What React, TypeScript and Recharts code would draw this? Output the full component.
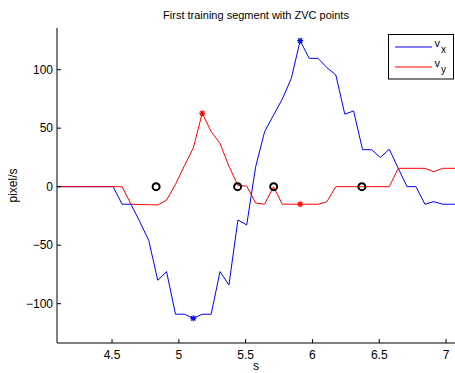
import React from "react";
import { ComposedChart, Line, Scatter, XAxis, YAxis } from "recharts";

// sample times (s), 15 Hz
const time = [
  4.042, 4.108, 4.175, 4.242, 4.308, 4.375, 4.442, 4.508, 4.575, 4.642, 4.708, 4.775,
  4.842, 4.908, 4.975, 5.042, 5.108, 5.175, 5.242, 5.308, 5.375, 5.442, 5.508, 5.575,
  5.642, 5.708, 5.775, 5.842, 5.908, 5.975, 6.042, 6.108, 6.175, 6.242, 6.308, 6.375,
  6.442, 6.508, 6.575, 6.642, 6.708, 6.775, 6.842, 6.908, 6.975, 7.042, 7.108,
];
const vx = [
  0, 0, 0, 0, 0, 0, 0, 0, -15, -15, -30, -46,
  -80, -72.6, -109, -109, -112.5, -109, -109, -72.6, -84, -28.5, -32.7, 17,
  47, 61, 75, 92.6, 124.8, 109.7, 109.7, 101.7, 95.5, 62, 64.7, 31.6,
  31.6, 25, 32, 15.7, 0, 0, -15, -12.8, -15, -15, -15,
];
const vy = [
  0, 0, 0, 0, 0, 0, 0, 0, 0, -15, -15.3, -15.4,
  -15.6, -11.5, 2, 18, 33, 62.7, 47, 37, 17.5, 1, 0.5, -14,
  -15, 0, -15, -15, -15, -15, -15, -12.8, 0, 0, 0, 0,
  0, 0, 0, 15.7, 15.7, 15.7, 15.7, 12.8, 15.7, 15.7, 15.7,
];

// zero velocity crossing points
const zvcTime = [4.83, 5.44, 5.71, 6.37];
const zvcValue = [0, 0, 0, 0];

// peaks
const vxPeakTime = [5.108, 5.908];
const vxPeakValue = [-112.5, 124.8];
const vyPeakTime = [5.175, 5.908];
const vyPeakValue = [62.7, -15];

const xTicks = [4.5, 5, 5.5, 6, 6.5, 7];
const yTicks = [-100, -50, 0, 50, 100];
const seriesSubs = ["x", "y"];

const BLUE = "#0000ff";
const RED = "#ff0000";
const FONT = "'Liberation Sans', Arial, Helvetica, sans-serif";

const rows = time.map((t, i) => ({ t, vx: vx[i], vy: vy[i] }));
const zvc = zvcTime.map((t, i) => ({ t, v: zvcValue[i] }));
const vxPeaks = vxPeakTime.map((t, i) => ({ t, v: vxPeakValue[i] }));
const vyPeaks = vyPeakTime.map((t, i) => ({ t, v: vyPeakValue[i] }));

const fmt = (v: number) => (v < 0 ? "\u2212" + Math.abs(v) : String(v));

const XTick = (props: any) => {
  const { x, y, payload } = props;
  return (
    <g>
      <line x1={x} y1={y} x2={x} y2={y - 4} stroke="#000" />
      <text x={x} y={y + 16} textAnchor="middle" fontSize={12} fontFamily={FONT} fill="#000">
        {fmt(payload.value)}
      </text>
    </g>
  );
};

const YTick = (props: any) => {
  const { x, y, payload } = props;
  return (
    <g>
      <line x1={x} y1={y} x2={x + 4} y2={y} stroke="#000" />
      <text x={x - 4} y={y + 4} textAnchor="end" fontSize={12} fontFamily={FONT} fill="#000">
        {fmt(payload.value)}
      </text>
    </g>
  );
};

const XLabel = (props: any) => {
  const vb = props.viewBox || {};
  return (
    <text x={vb.x + vb.width / 2} y={vb.y + 27} textAnchor="middle" fontSize={12} fontFamily={FONT} fill="#000">
      s
    </text>
  );
};

const YLabel = (props: any) => {
  const vb = props.viewBox || {};
  const cx = vb.x + 17;
  const cy = vb.y + vb.height / 2;
  return (
    <text x={cx} y={cy} transform={`rotate(-90 ${cx} ${cy})`} textAnchor="middle" fontSize={12} fontFamily={FONT} fill="#000">
      pixel/s
    </text>
  );
};

const Ring = (props: any) => {
  const { cx, cy } = props;
  return <circle cx={cx} cy={cy} r={3.5} fill="none" stroke="#000" strokeWidth={2} />;
};

const makeStar = (color: string) => (props: any) => {
  const { cx, cy } = props;
  const r = 3;
  const d = 2.2;
  return (
    <g stroke={color} strokeWidth={1.2}>
      <line x1={cx - r} y1={cy} x2={cx + r} y2={cy} />
      <line x1={cx} y1={cy - r} x2={cx} y2={cy + r} />
      <line x1={cx - d} y1={cy - d} x2={cx + d} y2={cy + d} />
      <line x1={cx - d} y1={cy + d} x2={cx + d} y2={cy - d} />
    </g>
  );
};

export default function App() {
  const colors = [BLUE, RED];
  return (
    <div style={{ position: "absolute", left: 0, top: 0, width: 455, height: 373, background: "#fff", fontFamily: FONT }}>
      <ComposedChart width={455} height={373} data={rows} margin={{ top: 28, right: 0, bottom: 0, left: 0 }}>
        <XAxis
          dataKey="t"
          type="number"
          domain={[4.088, 7.067]}
          ticks={xTicks}
          allowDataOverflow
          height={30}
          tickLine={false}
          tickSize={0}
          tickMargin={0}
          tick={<XTick />}
          axisLine={{ stroke: "#000" }}
          label={<XLabel />}
        />
        <YAxis
          type="number"
          domain={[-133.6, 135.6]}
          ticks={yTicks}
          allowDataOverflow
          width={57}
          tickLine={false}
          tickSize={0}
          tickMargin={0}
          tick={<YTick />}
          axisLine={{ stroke: "#000" }}
          label={<YLabel />}
        />
        <Line type="linear" dataKey="vx" stroke={BLUE} strokeWidth={1} dot={false} isAnimationActive={false} />
        <Line type="linear" dataKey="vy" stroke={RED} strokeWidth={1} dot={false} isAnimationActive={false} />
        <Scatter data={zvc} dataKey="v" shape={<Ring />} isAnimationActive={false} />
        <Scatter data={vxPeaks} dataKey="v" shape={makeStar(BLUE)} isAnimationActive={false} />
        <Scatter data={vyPeaks} dataKey="v" shape={makeStar(RED)} isAnimationActive={false} />
      </ComposedChart>
      <svg width={455} height={373} style={{ position: "absolute", left: 0, top: 0, pointerEvents: "none" }}>
        <text x={256} y={18.5} textAnchor="middle" fontSize={11} fontFamily={FONT} fill="#000">
          First training segment with ZVC points
        </text>
        <rect x={388.5} y={34.5} width={65} height={44.5} fill="#fff" stroke="#000" strokeWidth={1} />
        {seriesSubs.map((s, i) => (
          <g key={s}>
            <line x1={395} y1={47 + i * 20} x2={432} y2={47 + i * 20} stroke={colors[i]} strokeWidth={1} />
            <text x={434.5} y={47.3 + i * 20} fontSize={11} fontFamily={FONT} fill="#000">
              v
              <tspan fontSize={10} dx={1} dy={6}>{s}</tspan>
            </text>
          </g>
        ))}
      </svg>
    </div>
  );
}
